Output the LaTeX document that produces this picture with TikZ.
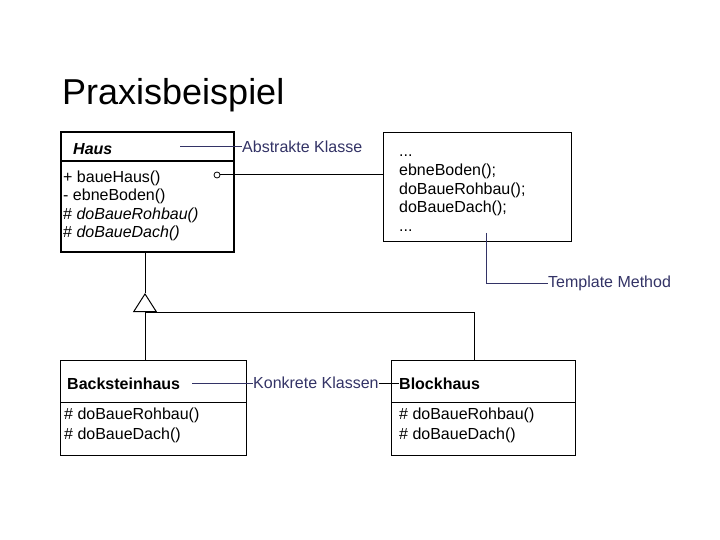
\documentclass[tikz,border=0pt]{standalone}
\usepackage{fontspec}
\setmainfont{Liberation Sans}
\usetikzlibrary{arrows.meta, calc, positioning}

\definecolor{notecol}{RGB}{51,51,102}

\tikzset{
  classbox/.style={draw, anchor=north west, inner sep=0pt, line width=1bp},
  txt/.style={anchor=base west, inner sep=0pt},
  notelabel/.style={anchor=west, inner sep=0pt, text=notecol},
  noteline/.style={draw=notecol, line width=1bp},
}

\begin{document}
\begin{tikzpicture}[x=1bp, y=-1bp, font=\fontsize{16bp}{18bp}\selectfont]
\useasboundingbox[fill=white] (0,0) rectangle (720,540);

\node[txt, font=\fontsize{36bp}{40bp}\selectfont] at (62,105) (title) {Praxisbeispiel};

% abstract class
\node[classbox, line width=2bp, minimum width=173bp, minimum height=120bp] at (60,131) (haus) {};
\draw[line width=2bp] ($(haus.north west)+(0,30)$) -- ($(haus.north east)+(0,30)$);
\node[txt, font=\fontsize{16bp}{18bp}\selectfont\bfseries\itshape] at (73,155) (hausname) {Haus};
\node[txt] at (63,183) (m1) {+ baueHaus()};
\node[txt] at (63,201) (m2) {- ebneBoden()};
\node[txt] at (63,219.5) (m3) {\# \textit{doBaueRohbau()}};
\node[txt] at (63,238) (m4) {\# \textit{doBaueDach()}};
\node[draw, circle, inner sep=0pt, minimum size=6bp, line width=0.8bp] at (217,175) (anchor) {};

% note
\node[classbox, minimum width=188bp, minimum height=109bp] at (383,132) (note) {};
\node[txt] at (399,157) (n1) {...};
\node[txt] at (399,176) (n2) {ebneBoden();};
\node[txt] at (399,194.5) (n3) {doBaueRohbau();};
\node[txt] at (399,213) (n4) {doBaueDach();};
\node[txt] at (399,232) (n5) {...};
\draw[line width=1bp] (anchor) -- (anchor -| note.west);

% concrete classes
\node[classbox, minimum width=186bp, minimum height=95bp] at (60,360) (back) {};
\draw[line width=1bp] ($(back.north west)+(0,42)$) -- ($(back.north east)+(0,42)$);
\node[txt, font=\fontsize{16bp}{18bp}\selectfont\bfseries] at (67,389) (backname) {Backsteinhaus};
\node[txt] at (64,419) (b1) {\# doBaueRohbau()};
\node[txt] at (64,439) (b2) {\# doBaueDach()};

\node[classbox, minimum width=184bp, minimum height=95bp] at (391,360) (block) {};
\draw[line width=1bp] ($(block.north west)+(0,42)$) -- ($(block.north east)+(0,42)$);
\node[txt, font=\fontsize{16bp}{18bp}\selectfont\bfseries] at (399,389) (blockname) {Blockhaus};
\node[txt] at (399,419) (k1) {\# doBaueRohbau()};
\node[txt] at (399,439) (k2) {\# doBaueDach()};

% inheritance
\coordinate (apex) at (145,293);
\coordinate (fork) at (145,312);
\coordinate (right) at (474,312);
\draw[line width=1bp] (haus.south -| apex) -- (apex);
\draw[line width=1bp, -{Triangle[open, length=19bp, width=24bp]}] (back.north -| apex) -- (apex);
\draw[line width=1bp] (fork) -- (right) -- (block.north -| right);

% labels
\node[notelabel] at (242,147) (abstr) {Abstrakte Klasse};
\coordinate (abstrin) at (180,147);
\draw[noteline] (abstrin) -- (abstr);

\node[notelabel] at (548,283) (tmpl) {Template Method};
\coordinate (tmplin) at (486,233);
\draw[noteline] (tmplin) |- (tmpl);

\node[notelabel] at (253,383) (konkr) {Konkrete Klassen};
\coordinate (konkrin) at (192,383);
\draw[noteline] (konkrin) -- (konkr);
\draw[line width=1bp] (konkr) -- (konkr -| blockname.west);

\end{tikzpicture}
\end{document}
